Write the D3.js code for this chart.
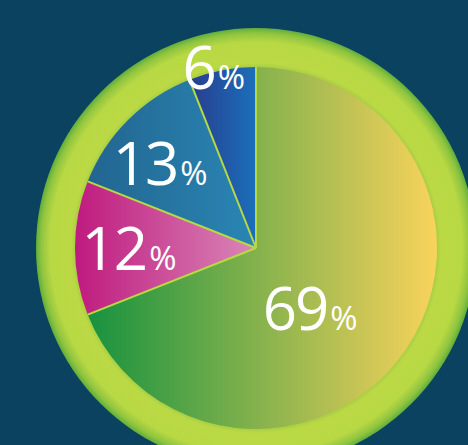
<!DOCTYPE html>
<html>
<head>
<meta charset="utf-8">
<script src="https://cdn.jsdelivr.net/npm/d3@7"></script>
<style>
  html, body { margin: 0; padding: 0; background: #0b4260; }
  svg { display: block; }
</style>
</head>
<body>
<script>
// ---- data ----
const categories = ["A", "B", "C", "D"];
const values = [69, 12, 13, 6];
const labels = ["69", "12", "13", "6"];
const percentSign = "%";

// ---- styles / layout ----
const W = 468, H = 445;
const cx = 256, cy = 248;
const rPie = 181, rRing = 220;
const gradStops = [
  ["#17923f", "#f9d35b"],
  ["#bf1a7e", "#d987b7"],
  ["#226590", "#2a86b4"],
  ["#283d8e", "#1b6fbb"]
];
const labelRadius = [81, 127, 128, 186];
const labelAngleShift = [13.8, 0, -3.5, -2.3]; // degrees

const svg = d3.select("body").append("svg").attr("width", W).attr("height", H);
svg.append("rect").attr("width", W).attr("height", H).attr("fill", "#0b4260");

const defs = svg.append("defs");
const ringGrad = defs.append("radialGradient").attr("id", "ringGrad")
  .attr("gradientUnits", "userSpaceOnUse")
  .attr("cx", 0).attr("cy", 0).attr("r", rRing);
[[0, "#b9d845"], [(rPie - 1) / rRing, "#a6cc43"], [(rPie + 4) / rRing, "#bad945"],
 [(rRing - 14) / rRing, "#b8d844"], [(rRing - 5) / rRing, "#8fc43f"], [1, "#5fae3c"]]
  .forEach(([o, c]) => ringGrad.append("stop").attr("offset", o).attr("stop-color", c));

gradStops.forEach((s, i) => {
  const g = defs.append("linearGradient").attr("id", "g" + i)
    .attr("x1", 0).attr("x2", 1).attr("y1", 0).attr("y2", 0);
  g.append("stop").attr("offset", 0).attr("stop-color", s[0]);
  g.append("stop").attr("offset", 1).attr("stop-color", s[1]);
});

const g = svg.append("g").attr("transform", `translate(${cx},${cy})`);

g.append("circle").attr("r", rRing).attr("fill", "url(#ringGrad)");

const pie = d3.pie().sort(null).value(d => d)(values);
const arc = d3.arc().innerRadius(0).outerRadius(rPie);

g.selectAll("path.slice").data(pie).join("path")
  .attr("class", "slice")
  .attr("d", arc)
  .attr("fill", (d, i) => `url(#g${i})`);

// separators
g.selectAll("line.sep").data(pie).join("line")
  .attr("class", "sep")
  .attr("x1", 0).attr("y1", 0)
  .attr("x2", d => Math.sin(d.startAngle) * rPie)
  .attr("y2", d => -Math.cos(d.startAngle) * rPie)
  .attr("stroke", "#b7d944")
  .attr("stroke-width", 2);

const txt = g.selectAll("text.lbl").data(pie).join("text")
  .attr("class", "lbl")
  .attr("font-family", "'Open Sans', sans-serif")
  .attr("fill", "#ffffff")
  .attr("text-anchor", "middle")
  .attr("transform", (d, i) => {
    const a = (d.startAngle + d.endAngle) / 2 + labelAngleShift[i] * Math.PI / 180;
    const r = labelRadius[i];
    const x = Math.sin(a) * r, y = -Math.cos(a) * r;
    return `translate(${x},${y + 22})`;
  });
txt.append("tspan").attr("font-size", 60).attr("letter-spacing", -2).text((d, i) => labels[i]);
txt.append("tspan").attr("font-size", 33).attr("dx", 3).text(percentSign);
</script>
</body>
</html>
